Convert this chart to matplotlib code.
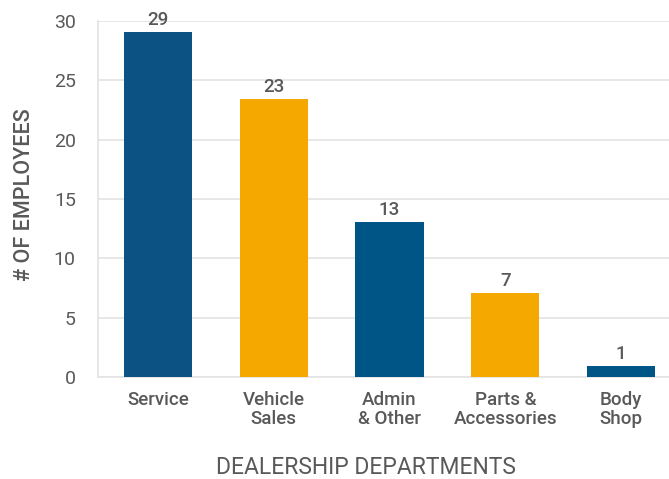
import matplotlib.pyplot as plt

# data
departments = ['Service', 'Vehicle\nSales', 'Admin\n& Other', 'Parts &\nAccessories', 'Body\nShop']
employees = [29.1, 23.4, 13.05, 7.1, 0.9]
labels = ['29', '23', '13', '7', '1']
colors = ['#0C5384', '#F5A800', '#005587', '#F5A800', '#005587']
yticks = [0, 5, 10, 15, 20, 25, 30]

plt.rcParams['font.family'] = ['Roboto', 'DejaVu Sans']
txt = '#595959'

fig = plt.figure(figsize=(6.69, 4.79), dpi=100)
ax = fig.add_axes([98 / 669, 1 - 377 / 479, (669 - 98) / 669, (377 - 21) / 479])

x = range(len(departments))
bars = ax.bar(x, employees, width=0.59, color=colors, zorder=3)

for b, lab in zip(bars, labels):
    ax.text(b.get_x() + b.get_width() / 2, b.get_height() + 0.25, lab,
            ha='center', va='bottom', fontsize=13.5, color=txt, fontweight='medium')

ax.set_ylim(0, 30)
ax.set_xlim(-0.52, 4.415)
ax.set_yticks(yticks)
ax.set_xticks(list(x))
ax.set_xticklabels(departments, fontsize=13.5, color=txt, fontweight='medium',
                   linespacing=1.05)
ax.tick_params(axis='y', labelsize=14, colors=txt, length=0, pad=16)
ax.tick_params(axis='x', length=0, pad=10)

ax.yaxis.grid(True, color='#E3E3E3', linewidth=1.2, zorder=0)
for s in ['top', 'right']:
    ax.spines[s].set_visible(False)
for s in ['left', 'bottom']:
    ax.spines[s].set_color('#E3E3E3')
    ax.spines[s].set_linewidth(1.2)

fig.text(25 / 669, 1 - 195 / 479, '# OF EMPLOYEES', rotation=90, ha='center', va='center',
         fontsize=15.5, color=txt, fontweight='medium')
fig.text(366 / 669, 1 - 467 / 479, 'DEALERSHIP DEPARTMENTS', ha='center', va='center',
         fontsize=16.5, color=txt)

fig.savefig('out.png', dpi=100, facecolor='white')
